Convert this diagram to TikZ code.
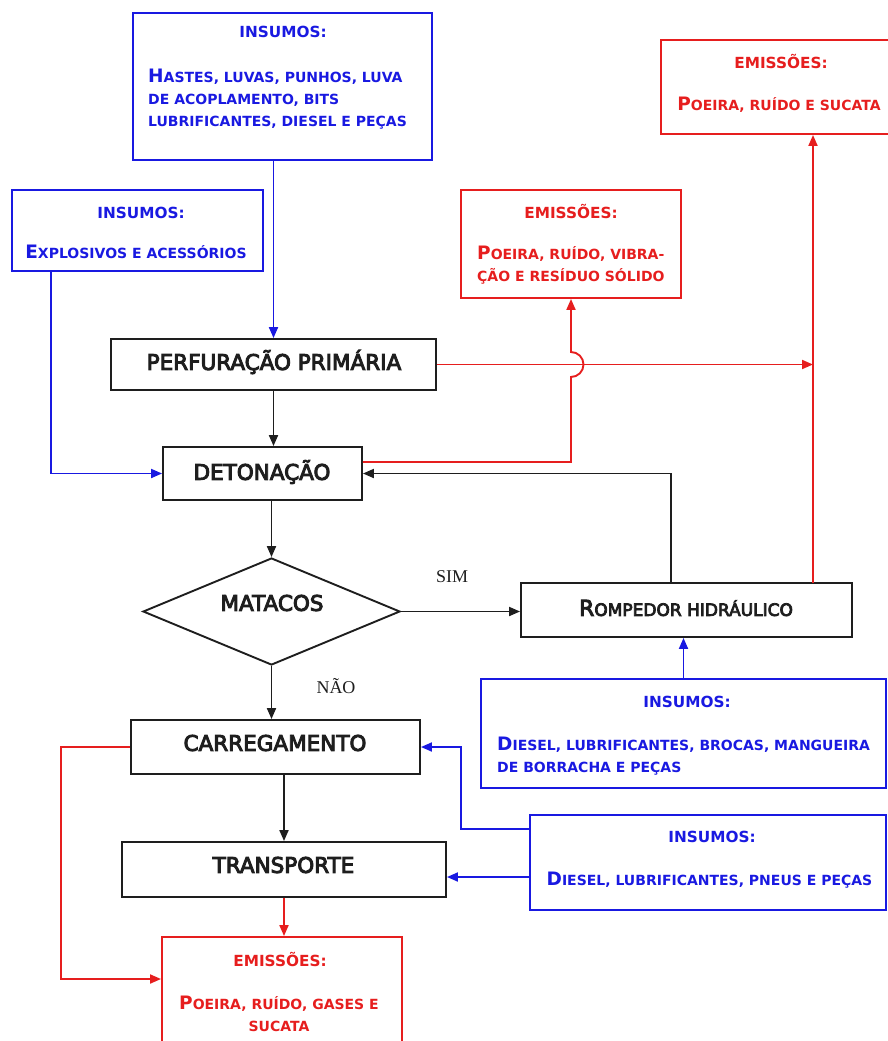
\documentclass[tikz,border=0pt]{standalone}
\usepackage{fontspec}
\newfontfamily\cadfont{DejaVu Sans}[FakeBold=4.5]
\newfontfamily\cadbold{DejaVu Sans Bold}
\newfontfamily\timesf{Liberation Serif}
\usetikzlibrary{arrows.meta,shapes.geometric,calc}
\definecolor{bl}{RGB}{25,25,225}
\definecolor{rd}{RGB}{230,30,30}
\definecolor{bk}{RGB}{30,30,30}
\newcommand\Ini[1]{{\fontsize{18.5}{18.5}\selectfont\MakeUppercase{#1}}}
\newcommand\Up[1]{\MakeUppercase{#1}}
\tikzset{
  box/.style={draw, line width=1.9pt, inner sep=0pt},
  bbox/.style={box, draw=bk},
  ubox/.style={box, draw=bl},
  rbox/.style={box, draw=rd},
  head/.style={font=\cadbold\fontsize{15.3}{15.3}\selectfont, inner sep=0pt},
  body/.style={font=\cadbold\fontsize{14}{22}\selectfont, inner sep=0pt},
  lab/.style={font=\cadfont\fontsize{21.5}{22}\selectfont, text=bk, inner sep=0pt},
  conn/.style={line width=1.9pt, -{Triangle[length=11pt,width=9pt]}},
  yesno/.style={font=\timesf\fontsize{18}{18}\selectfont, text=bk, inner sep=0pt},
}
\begin{document}
\begin{tikzpicture}[x=1pt,y=-1pt]
\useasboundingbox (0,0) rectangle (888,1041);
% ---------- boxes
\node[ubox, minimum width=299pt, minimum height=147pt] (in1) at (282.5,86.5) {};
\node[ubox, minimum width=251pt, minimum height=81pt] (in2) at (137.5,230.5) {};
\node[rbox, minimum width=220pt, minimum height=108pt] (em1) at (571,244) {};
\node[rbox, minimum width=232pt, minimum height=94pt] (em2) at (777,87) {};
\node[bbox, minimum width=325pt, minimum height=51pt] (perf) at (273.5,364.5) {};
\node[bbox, minimum width=199pt, minimum height=53pt] (det) at (262.5,473.5) {};
\node[draw=bk, diamond, line width=1.9pt, minimum width=257pt, minimum height=107pt, inner sep=0pt] (dia) at (271.5,611.5) {};
\node[bbox, minimum width=331pt, minimum height=54pt] (rmp) at (686.5,610) {};
\node[ubox, minimum width=405pt, minimum height=109pt] (in3) at (683.5,733.5) {};
\node[bbox, minimum width=289pt, minimum height=54pt] (car) at (275.5,747) {};
\node[bbox, minimum width=324pt, minimum height=55pt] (tr) at (284,869.5) {};
\node[ubox, minimum width=356pt, minimum height=95pt] (in4) at (708,862.5) {};
\node[rbox, minimum width=240pt, minimum height=108pt] (em3) at (282,991) {};
% ---------- texts
\node[head, text=bl] (in1h) at (283,32) {INSUMOS:};
\node[body, text=bl, anchor=west, align=left] (in1b) at (148,99) {\Ini{H}\Up{ASTES, LUVAS, PUNHOS, LUVA}\\\Up{DE ACOPLAMENTO, BITS}\\\Up{LUBRIFICANTES, DIESEL E PEÇAS}};
\node[head, text=bl] (in2h) at (141,213) {INSUMOS:};
\node[body, text=bl] (in2b) at (136,252) {\Ini{E}\Up{XPLOSIVOS E ACESSÓRIOS}};
\node[head, text=rd] (em1h) at (571,212) {EMISSÕES:};
\node[body, text=rd, anchor=west, align=left] (em1b) at (477,265) {\Ini{P}\Up{OEIRA, RUÍDO, VIBRA-}\\\Up{ÇÃO E RESÍDUO SÓLIDO}};
\node[head, text=rd] (em2h) at (781,62) {EMISSÕES:};
\node[body, text=rd] (em2b) at (779,105) {\Ini{P}\Up{OEIRA, RUÍDO E SUCATA}};
\node[lab] (perft) at (274,362) {PERFURAÇÃO PRIMÁRIA};
\node[lab] (dett) at (262,472) {DETONAÇÃO};
\node[lab] (diat) at (272,603) {MATACOS};
\node[yesno] (sim) at (452,577) {SIM};
\node[yesno] (nao) at (336,686) {NÃO};
\node[font=\cadfont\fontsize{17}{17}\selectfont, text=bk, inner sep=0pt] (rmpt) at (686,608) {{\fontsize{22}{22}\selectfont R}\Up{OMPEDOR HIDRÁULICO}};
\node[head, text=bl] (in3h) at (687,702) {INSUMOS:};
\node[body, text=bl, anchor=west, align=left] (in3b) at (497,756) {\Ini{D}\Up{IESEL, LUBRIFICANTES, BROCAS, MANGUEIRA}\\\Up{DE BORRACHA E PEÇAS}};
\node[lab] (cart) at (275,743) {CARREGAMENTO};
\node[lab] (trt) at (283.5,865) {TRANSPORTE};
\node[head, text=bl] (in4h) at (712,837) {INSUMOS:};
\node[body, text=bl] (in4b) at (709.5,880) {\Ini{D}\Up{IESEL, LUBRIFICANTES, PNEUS E PEÇAS}};
\node[head, text=rd] (em3h) at (280,959) {EMISSÕES:};
\node[body, text=rd, align=center] (em3b) at (279,1014) {\Ini{P}\Up{OEIRA, RUÍDO, GASES E}\\\Up{SUCATA}};
% ---------- coordinates on box edges
\coordinate (rtop) at (813,583);
\coordinate (rback) at (671,583);
% ---------- blue connectors
\draw[conn, bl] (in1.south -| perf.north) -- (perf.north);
\draw[conn, bl] ([xshift=40pt]in2.south west) |- (det.west);
\draw[conn, bl] (in3.north) -- (in3.north |- rmp.south);
\draw[conn, bl] ([yshift=33.5pt]in4.west) -- ++(-68,0) |- (car.east);
\draw[conn, bl] ([yshift=-14.5pt]in4.west) -- ([yshift=-14.5pt]in4.west -| tr.east);
% ---------- black connectors
\draw[conn, bk] (perf.south) -- (perf.south |- det.north);
\draw[conn, bk] (dia.north |- det.south) -- (dia.north);
\draw[conn, bk] (dia.east) -- (dia.east -| rmp.west);
\draw[conn, bk] (rback) |- (det.east);
\draw[conn, bk] (dia.south) -- (dia.south |- car.north);
\draw[conn, bk] (tr.north |- car.south) -- (tr.north);
% ---------- red connectors
\draw[conn, rd] (rtop) -- (rtop |- em2.south);
\draw[conn, rd] (perf.east) -- (perf.east -| rtop);
\draw[conn, rd] ([yshift=11.5pt]det.east) -| ($(em1.south |- perf.east)+(0pt,-12.5pt)$)
  arc[start angle=-90, end angle=90, radius=12.5pt] -- (em1.south);
\draw[conn, rd] (tr.south) -- (tr.south |- em3.north);
\draw[conn, rd] (car.west) -- ++(-69,0) |- ([yshift=12pt]em3.west);
\end{tikzpicture}
\end{document}
